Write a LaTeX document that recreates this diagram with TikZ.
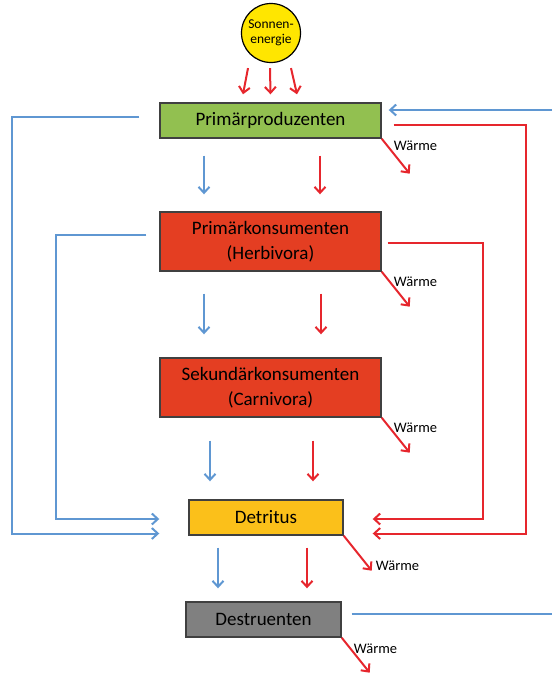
\documentclass[tikz,border=0pt]{standalone}
\usepackage{fontspec}
\setmainfont{Carlito}
\usetikzlibrary{arrows.meta,calc}
\usepackage{xcolor}
\definecolor{sonnengelb}{HTML}{FFE600}
\definecolor{produgruen}{HTML}{92C050}
\definecolor{konsurot}{HTML}{E43E22}
\definecolor{detrigelb}{HTML}{FBC01A}
\definecolor{destrugrau}{HTML}{808080}
\definecolor{flussblau}{HTML}{5F97D2}
\definecolor{flussrot}{HTML}{E6262D}

\tikzset{
  ebene/.style={draw=black!75, line width=1.4pt, inner sep=0pt, minimum height=35pt,
    align=center, font=\fontsize{19}{25}\selectfont},
  sonne/.style={circle, draw=black, line width=1.2pt, fill=sonnengelb, minimum size=59pt,
    inner sep=0pt, align=center, font=\fontsize{13.5}{15}\selectfont},
  blaupfeil/.style={draw=flussblau, line width=2pt, -{Straight Barb[length=6pt,width=11pt]}},
  rotpfeil/.style={draw=flussrot, line width=2pt, -{Straight Barb[length=6pt,width=11pt]}},
  waerme/.style={font=\fontsize{14.5}{16}\selectfont, anchor=west, inner sep=0pt}
}

\begin{document}
\begin{tikzpicture}[x=1pt,y=-1pt]
  \useasboundingbox (0,0) rectangle (552,675);

  % Energiequelle
  \node[sonne] (sonne) at (271,33) {Sonnen-\\energie};

  % Die Ebenen der Nahrungskette
  \node[ebene, fill=produgruen, minimum width=221pt] (prod) at (270.5,120.5) {Primärproduzenten};
  \node[ebene, fill=konsurot, minimum width=221pt, minimum height=59pt] (herb) at (270.5,241.5)
    {Primärkonsumenten\\(Herbivora)};
  \node[ebene, fill=konsurot, minimum width=221pt, minimum height=59pt] (carn) at (270.5,387.5)
    {Sekundärkonsumenten\\(Carnivora)};
  \node[ebene, fill=detrigelb, minimum width=154pt] (detr) at (266,517.5) {Detritus};
  \node[ebene, fill=destrugrau, minimum width=155pt] (destr) at (263.5,619.5) {Destruenten};

  % Sonnenenergie trifft auf die Produzenten
  \foreach \von/\nach in {-23/-27.5, -1/0, 20/26.5}{
    \draw[rotpfeil] ($(sonne.south)+(\von,5)$) -- ($(prod.north)+(\nach,-8)$);
  }

  % Stoff- (blau) und Energiefluss (rot) von Ebene zu Ebene
  \draw[blaupfeil] ($(prod.south)+(-66.5,17)$) -- ($(herb.north)+(-66.5,-17)$);
  \draw[rotpfeil]  ($(prod.south)+(49.5,17)$) -- ($(herb.north)+(49.5,-17)$);
  \draw[blaupfeil] ($(herb.south)+(-66.5,22)$) -- ($(carn.north)+(-66.5,-23)$);
  \draw[rotpfeil]  ($(herb.south)+(50.5,22)$) -- ($(carn.north)+(50.5,-23)$);
  \draw[blaupfeil] ($(carn.south)+(-60.5,23)$) -- ($(detr.north)+(-56,-18)$);
  \draw[rotpfeil]  ($(carn.south)+(42.5,23)$) -- ($(detr.north)+(47,-18)$);
  \draw[blaupfeil] ($(detr.south)+(-48,12)$) -- ($(destr.north)+(-45.5,-13)$);
  \draw[rotpfeil]  ($(detr.south)+(41,12)$) -- ($(destr.north)+(43.5,-13)$);

  % Waermeverluste jeder Ebene
  \foreach \n/\dx/\dy in {prod/12/7, herb/12/10, carn/12/10}{
    \draw[rotpfeil] (\n.south east) -- ++(28,35);
    \node[waerme] (w\n) at ($(\n.south east)+(\dx,\dy)$) {Wärme};
  }
  \draw[rotpfeil] (detr.south east) -- ++(28,35);
  \node[waerme] (wdetr) at ($(detr.south east)+(32,30)$) {Wärme};
  \draw[rotpfeil] (destr.south east) -- ++(28,35);
  \node[waerme] (wdestr) at ($(destr.south east)+(12,11)$) {Wärme};

  % Tote Biomasse gelangt in den Detritus (links blau)
  \draw[blaupfeil] ($(prod.west)+(-20,-3.5)$) -- ++(-127,0) |- ($(detr.west)+(-29,16)$);
  \draw[blaupfeil] ($(herb.west)+(-13,-6.5)$) -- ++(-90,0) |- ($(detr.west)+(-29,1.5)$);

  % ... und rechts als Energie (rot)
  \draw[rotpfeil] ($(prod.east)+(12,4.5)$) -- ++(132,0) |- ($(detr.east)+(29,16)$);
  \draw[rotpfeil] ($(herb.east)+(6,1.5)$) -- ++(95,0) |- ($(detr.east)+(29,1.5)$);

  % Rueckfuehrung der Naehrstoffe von den Destruenten
  \coordinate (rueckoben) at (552,110);
  \coordinate (rueckunten) at (552,614);
  \draw[blaupfeil] (rueckoben) -- ($(prod.east)+(7,-10.5)$);
  \draw[draw=flussblau, line width=2pt] ($(destr.east)+(10,-5.5)$) -- (rueckunten);
\end{tikzpicture}
\end{document}
